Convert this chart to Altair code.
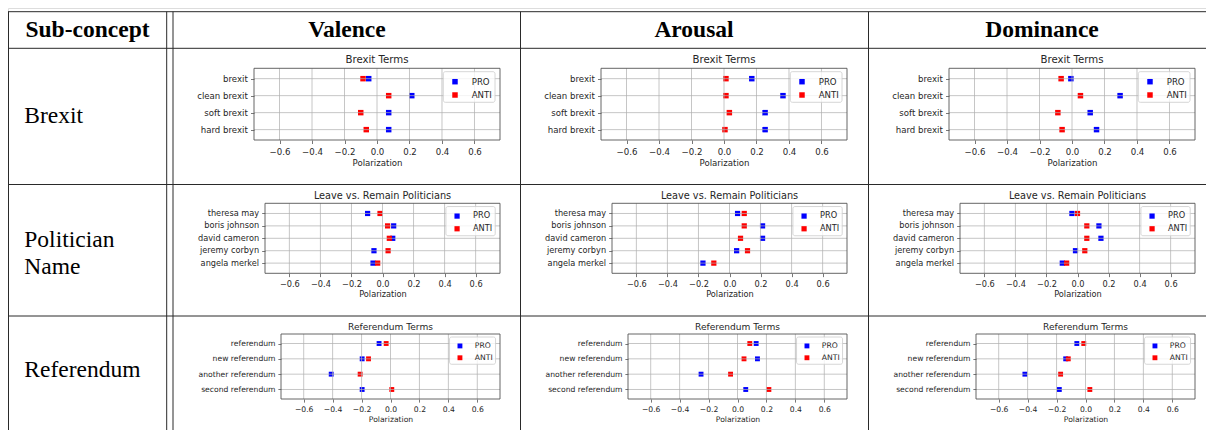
import altair as alt
import pandas as pd

# ---------------- data ----------------
dimensions = ["Valence", "Arousal", "Dominance"]
sub_concepts = [["Brexit"], ["Politician", "Name"], ["Referendum"]]
panel_titles = ["Brexit Terms", "Leave vs. Remain Politicians", "Referendum Terms"]
groups = ["PRO", "ANTI"]
group_colors = ["#0000ff", "#ff0000"]
x_ticks = [-0.6, -0.4, -0.2, 0.0, 0.2, 0.4, 0.6]

brexit_terms = ["brexit", "clean brexit", "soft brexit", "hard brexit"]
politician_names = ["theresa may", "boris johnson", "david cameron", "jeremy corbyn", "angela merkel"]
referendum_terms = ["referendum", "new referendum", "another referendum", "second referendum"]

valence_brexit_pro = [-0.051, 0.214, 0.072, 0.072]
valence_brexit_anti = [-0.086, 0.072, -0.100, -0.066]
arousal_brexit_pro = [0.171, 0.363, 0.253, 0.253]
arousal_brexit_anti = [0.012, 0.012, 0.033, 0.006]
dominance_brexit_pro = [-0.007, 0.296, 0.112, 0.151]
dominance_brexit_anti = [-0.067, 0.052, -0.087, -0.061]

valence_pol_pro = [-0.096, 0.072, 0.066, -0.055, -0.061]
valence_pol_anti = [-0.016, 0.033, 0.044, 0.036, -0.031]
arousal_pol_pro = [0.052, 0.213, 0.213, 0.046, -0.171]
arousal_pol_anti = [0.095, 0.095, 0.071, 0.116, -0.101]
dominance_pol_pro = [-0.036, 0.138, 0.151, -0.013, -0.098]
dominance_pol_anti = [0.000, 0.060, 0.060, 0.047, -0.070]

valence_ref_pro = [-0.079, -0.196, -0.410, -0.196]
valence_ref_anti = [-0.030, -0.152, -0.210, 0.009]
arousal_ref_pro = [0.129, 0.138, -0.252, 0.057]
arousal_ref_anti = [0.085, 0.045, -0.048, 0.217]
dominance_ref_pro = [-0.060, -0.137, -0.419, -0.181]
dominance_ref_anti = [-0.012, -0.119, -0.172, 0.030]

row_terms = [brexit_terms, politician_names, referendum_terms]
row_values = [
    [(valence_brexit_pro, valence_brexit_anti), (arousal_brexit_pro, arousal_brexit_anti),
     (dominance_brexit_pro, dominance_brexit_anti)],
    [(valence_pol_pro, valence_pol_anti), (arousal_pol_pro, arousal_pol_anti),
     (dominance_pol_pro, dominance_pol_anti)],
    [(valence_ref_pro, valence_ref_anti), (arousal_ref_pro, arousal_ref_anti),
     (dominance_ref_pro, dominance_ref_anti)],
]

# ---------------- layout (reference pixel coords, shifted by page margin) ----------------
W, H = 1198, 422
OFF = 8
XLIM = 0.757
INK = "#262626"
LINE = "#2a2a2a"
GRID = "#b0b0b0"
FRAME = "#555555"
FONT = "DejaVu Sans"
SERIF = "Liberation Serif"

col_left = [173, 520, 868]
# per row: frame left offset, frame right offset, top, bottom, point padding, scale, title y
row_geo = [
    dict(lo=81, ro=327, top=68.3, bottom=140.0, pad=0.61, s=1.0, ty=60.0),
    dict(lo=92, ro=327, top=203.3, bottom=273.3, pad=0.82, s=0.954, ty=195.7),
    dict(lo=108, ro=327, top=334.0, bottom=399.0, pad=0.62, s=0.89, ty=327.3),
]

one = pd.DataFrame({"d": [0]})


def rule(x, x2, y, y2, color=LINE, width=1.0):
    return alt.Chart(one).mark_rule(color=color, strokeWidth=width).encode(
        x=alt.value(x - OFF), x2=alt.value(x2 - OFF), y=alt.value(y - OFF), y2=alt.value(y2 - OFF))


def text(x, y, t, **kw):
    return alt.Chart(one).mark_text(text=t, **kw).encode(x=alt.value(x - OFF), y=alt.value(y - OFF))


def panel(terms, pro, anti, title, cl, g):
    s = g["s"]
    L = cl + g["lo"] - OFF
    R = cl + g["ro"] - OFF
    T = g["top"] - OFF
    B = g["bottom"] - OFF
    n = len(terms)
    pts = pd.DataFrame({"term": terms + terms,
                        "group": [groups[0]] * n + [groups[1]] * n,
                        "value": pro + anti})
    xscale = alt.Scale(domain=[-XLIM, XLIM], range=[L, R], nice=False, zero=False)
    yscale = alt.Scale(type="point", domain=terms, range=[T, B], padding=g["pad"])
    xaxis = alt.Axis(orient="bottom", offset=B - H, values=x_ticks, format=".1f", grid=False,
                     domain=False, tickSize=3.5 * s, tickWidth=0.8, tickColor=FRAME,
                     labelFont=FONT, labelFontSize=8.6 * s, labelColor=INK, labelPadding=4.0 * s,
                     labelFlush=False, labelOverlap=False, title="Polarization", titleFont=FONT,
                     titleFontSize=8.6 * s, titleFontWeight="normal", titleColor=INK,
                     titlePadding=2.8 * s)
    yaxis = alt.Axis(orient="left", offset=-L, grid=False, domain=False, tickSize=3.5 * s,
                     tickWidth=0.8, tickColor=FRAME, labelFont=FONT, labelFontSize=8.6 * s,
                     labelColor=INK, labelPadding=3.2 * s, labelOverlap=False, title=None)
    color = alt.Color("group:N", scale=alt.Scale(domain=groups, range=group_colors), legend=None)

    points = alt.Chart(pts).mark_square(size=30 * s * s, opacity=1).encode(
        x=alt.X("value:Q", scale=xscale, axis=xaxis),
        y=alt.Y("term:N", scale=yscale, axis=yaxis, sort=terms),
        color=color)
    gx = alt.Chart(pd.DataFrame({"value": x_ticks})).mark_rule(
        color=GRID, strokeWidth=0.8, opacity=0.9).encode(
        x=alt.X("value:Q", scale=xscale, axis=xaxis), y=alt.value(T), y2=alt.value(B))
    gy = alt.Chart(pd.DataFrame({"term": terms})).mark_rule(
        color=GRID, strokeWidth=0.8, opacity=0.9).encode(
        y=alt.Y("term:N", scale=yscale, axis=yaxis, sort=terms), x=alt.value(L), x2=alt.value(R))
    frame = alt.Chart(one).mark_rect(fillOpacity=0, stroke=FRAME, strokeWidth=0.9).encode(
        x=alt.value(L), x2=alt.value(R), y=alt.value(T), y2=alt.value(B))
    ttl = alt.Chart(one).mark_text(text=title, font=FONT, fontSize=10.2 * s, color=INK,
                                   align="center", baseline="middle").encode(
        x=alt.value((L + R) / 2), y=alt.value(g["ty"] - OFF))
    box = alt.Chart(one).mark_rect(fill="white", fillOpacity=0.8, stroke="#cccccc",
                                   strokeWidth=0.8, cornerRadius=2).encode(
        x=alt.value(R - 56.7 * s), x2=alt.value(R - 5 * s),
        y=alt.value(T + 3.4 * s), y2=alt.value(T + 34 * s))
    leg = [box]
    for i, (grp, col) in enumerate(zip(groups, group_colors)):
        yy = T + (13.4 + 13.3 * i) * s
        leg.append(alt.Chart(one).mark_square(size=30 * s * s, color=col, opacity=1).encode(
            x=alt.value(R - 45 * s), y=alt.value(yy)))
        leg.append(alt.Chart(one).mark_text(text=grp, font=FONT, fontSize=8.6 * s, color=INK,
                                            align="left", baseline="middle").encode(
            x=alt.value(R - 28.3 * s), y=alt.value(yy)))
    return alt.layer(points, gx, gy, frame, ttl, *leg)


# ---------------- table decoration ----------------
deco = []
for y in [11.7, 48.3, 184.5, 316.0]:
    deco.append(rule(8, 1214, y, y))
for x in [8.5, 166.7, 173.0, 520.5, 868.5]:
    deco.append(rule(x, x, 11.7, 440))

deco.append(text(87.5, 30, "Sub-concept", font=SERIF, fontSize=23.5, fontWeight="bold",
                 color="black", align="center", baseline="middle"))
for cl, dim in zip(col_left, dimensions):
    deco.append(text(cl + 174, 30, dim, font=SERIF, fontSize=23.5, fontWeight="bold",
                     color="black", align="center", baseline="middle"))
row_label_y = [116, 240, 370]
for yy, lab in zip(row_label_y, sub_concepts):
    deco.append(text(24.3, yy, lab, font=SERIF, fontSize=23.5, color="black", align="left",
                     baseline="middle", lineHeight=27))

panels = []
for r in range(3):
    for c in range(3):
        pro, anti = row_values[r][c]
        panels.append(panel(row_terms[r], pro, anti, panel_titles[r], col_left[c], row_geo[r]))

chart = alt.layer(*deco, *panels).resolve_scale(
    x="independent", y="independent").resolve_axis(
    x="independent", y="independent").properties(
    width=W, height=H, padding=0, autosize="none").configure_view(
    stroke=None).configure(background="white")

chart.save("out.html", embed_options={"renderer": "svg", "actions": False})
